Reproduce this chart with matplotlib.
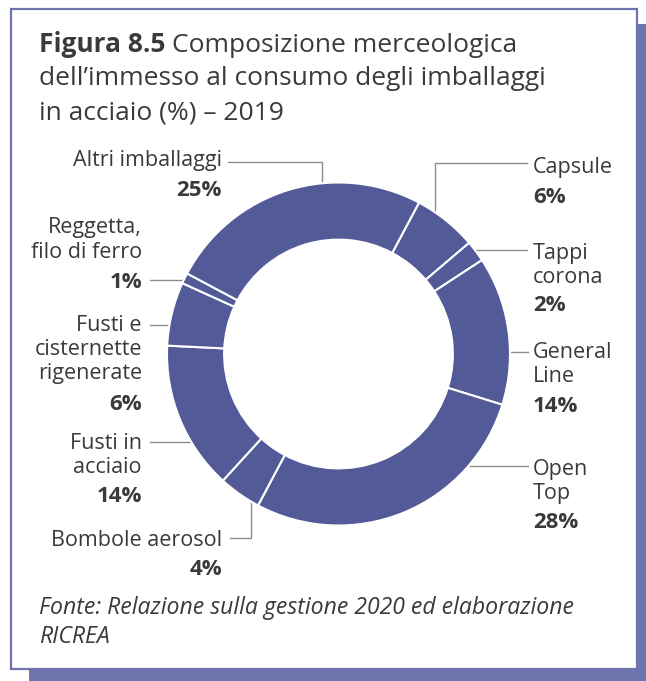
import numpy as np
import matplotlib
matplotlib.use('Agg')
import matplotlib.pyplot as plt
from matplotlib.patches import Rectangle

W, H = 646, 681
OUT = 'out.png'

categories = ['Capsule', 'Tappi corona', 'General Line', 'Open Top', 'Bombole aerosol',
              'Fusti in acciaio', 'Fusti e cisternette rigenerate',
              'Reggetta, filo di ferro', 'Altri imballaggi']
shares = [6, 2, 14, 28, 4, 14, 6, 1, 25]
name_lines = [
    ['Capsule'],
    ['Tappi', 'corona'],
    ['General', 'Line'],
    ['Open', 'Top'],
    ['Bombole aerosol'],
    ['Fusti in', 'acciaio'],
    ['Fusti e', 'cisternette', 'rigenerate'],
    ['Reggetta,', 'filo di ferro'],
    ['Altri imballaggi'],
]

title_bold = 'Figura 8.5'
title_rest = ['Composizione merceologica',
              'dell\u2019immesso al consumo degli imballaggi',
              'in acciaio (%) \u2013 2019']
source = ['Fonte: Relazione sulla gestione 2020 ed elaborazione', 'RICREA']

PIE = '#525a98'
FRAME = '#6f74ae'
TXT = '#3a3a3a'
LEAD = '#8c8c8c'
FONT = 'Open Sans'

# donut geometry in figure pixels (y down)
CX, CY, R = 338.5, 354.0, 171.5

# label layout: x, alignment, baselines of name lines, baseline of percent,
# leader = ('h', y, end_x) or ('v', x, elbow_y, end_x)
layout = [
    (533, 'left', [173], 203, ('v', 435, 163, 527)),
    (533, 'left', [259, 283], 311, ('h', 250, 527)),
    (533, 'left', [358, 382], 412, ('h', 352, 528)),
    (533, 'left', [475, 499], 528, ('h', 466, 528)),
    (222, 'right', [546], 575, ('v', 251, 538, 230)),
    (142, 'right', [449, 473], 502, ('h', 442, 150)),
    (142, 'right', [331, 355, 379], 410, ('h', 325, 150)),
    (142, 'right', [233, 258], 288, ('h', 280, 150)),
    (222, 'right', [166], 196, ('v', 322, 162, 228)),
]

fig = plt.figure(figsize=(W / 100, H / 100), dpi=100)
bg = fig.add_axes([0, 0, 1, 1], zorder=0)
bg.set_xlim(0, W)
bg.set_ylim(H, 0)
bg.axis('off')

# box with offset shadow
bg.add_patch(Rectangle((29, 24), W - 29, H - 24, fc=FRAME, ec='none'))
bg.add_patch(Rectangle((11, 9), 626, 660, fc='white', ec=FRAME, lw=1.6))

ax = fig.add_axes([(CX - R) / W, (H - CY - R) / H, 2 * R / W, 2 * R / H], zorder=1)
ax.pie(shares, colors=[PIE] * len(shares), startangle=62, counterclock=False, radius=1,
       wedgeprops=dict(width=0.333, edgecolor='white', linewidth=1.5))
ax.set_xlim(-1, 1)
ax.set_ylim(-1, 1)
ax.set_aspect('equal')
ax.patch.set_visible(False)

# leaders
r_lead = R + 1
for (tx, ha, ys, py, lead), v in zip(layout, shares):
    if lead[0] == 'h':
        _, y, x_end = lead
        dx = np.sqrt(r_lead ** 2 - (y - CY) ** 2)
        x0 = CX + dx if x_end > CX else CX - dx
        bg.plot([x0, x_end], [y, y], color=LEAD, lw=1.0)
    else:
        _, x, y_el, x_end = lead
        dy = np.sqrt(r_lead ** 2 - (x - CX) ** 2)
        y0 = CY - dy if y_el < CY else CY + dy
        bg.plot([x, x, x_end], [y0, y_el, y_el], color=LEAD, lw=1.0)

# labels
for (tx, ha, ys, py, lead), lines, v in zip(layout, name_lines, shares):
    for y, s in zip(ys, lines):
        bg.text(tx, y, s, ha=ha, va='baseline', fontsize=15.5, color=TXT, family=FONT)
    bg.text(tx, py, f'{v}%', ha=ha, va='baseline', fontsize=16, color=TXT,
            family=FONT, fontweight='bold')

# title
renderer = fig.canvas.get_renderer()
t = bg.text(39, 52, title_bold, ha='left', va='baseline', fontsize=19, color=TXT,
            family=FONT, fontweight='bold')
x_after = t.get_window_extent(renderer).x1 + 6
bg.text(x_after, 52, title_rest[0], ha='left', va='baseline', fontsize=19, color=TXT, family=FONT)
bg.text(39, 85, title_rest[1], ha='left', va='baseline', fontsize=19, color=TXT, family=FONT)
bg.text(39, 119, title_rest[2], ha='left', va='baseline', fontsize=19, color=TXT, family=FONT)

# source
bg.text(39, 614, source[0], ha='left', va='baseline', fontsize=16.6, color=TXT,
        family=FONT, style='italic')
bg.text(39, 643, source[1], ha='left', va='baseline', fontsize=16.6, color=TXT,
        family=FONT, style='italic')

fig.savefig(OUT, dpi=100)
